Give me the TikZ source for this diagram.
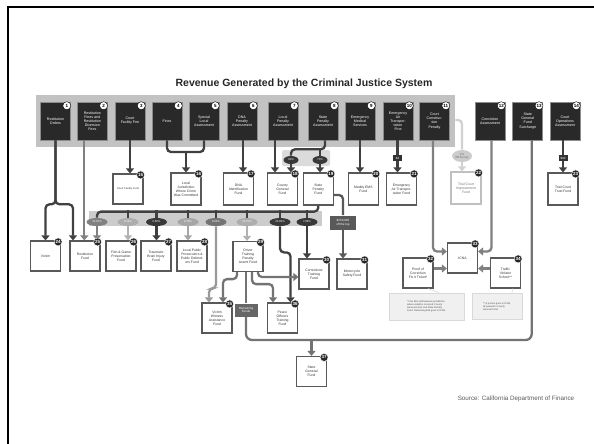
\documentclass[tikz,border=0pt]{standalone}
\usepackage{fontspec}
\setmainfont{Liberation Sans}
\usepackage{tikz}
\usetikzlibrary{arrows.meta,positioning,shapes.geometric,backgrounds}

\begin{document}
\begin{tikzpicture}[x=1pt, y=-1pt, thick,
  src node/.style={rectangle,draw=black!45,fill=black!84,text=white,line width=0.6pt,
    minimum width=30pt,minimum height=38pt,inner sep=0.5pt,align=center,
    font=\fontsize{3.6}{4.1}\selectfont},
  fund node/.style={rectangle,draw=black!65,fill=white,line width=1.2pt,text=black!80,
    minimum width=30pt,minimum height=30pt,inner sep=0.5pt,align=center,
    font=\fontsize{3.4}{3.9}\selectfont},
  pct/.style={ellipse,fill=#1,text=white,minimum width=21pt,minimum height=8pt,inner sep=0pt,
    font=\fontsize{2.8}{3}\selectfont},
  tagbox/.style={rectangle,fill=#1,text=white,inner sep=0.8pt,align=center,
    minimum width=9pt,minimum height=6pt,font=\fontsize{3}{3.4}\selectfont},
  note/.style={rectangle,draw=black!15,fill=black!6,align=left,inner sep=1.5pt,
    text=black!70,font=\fontsize{2.4}{2.9}\selectfont},
  num w/.style={circle,fill=white,draw=black,line width=0.4pt,minimum size=8pt,inner sep=0pt,
    text=black,font=\fontsize{4.5}{4.5}\selectfont\bfseries},
  num b/.style={circle,fill=black!85,draw=white,line width=0.4pt,minimum size=8pt,inner sep=0pt,
    text=white,font=\fontsize{4.5}{4.5}\selectfont\bfseries},
  flowline/.style={line width=2.3pt,draw=#1,rounded corners=4pt},
  arr/.style={-{Triangle[width=8pt,length=5pt]}}]

\useasboundingbox (0,0) rectangle (594,444);
\draw[line width=2pt] (7.5,444) -- (7.5,7.5) -- (594,7.5);

\node[font=\fontsize{10.5}{12}\selectfont\bfseries, text=black!85] (T) at (304,84)
  {Revenue Generated by the Criminal Justice System};

\node[fill=black!24, minimum width=419pt, minimum height=52pt, inner sep=0pt] (TB) at (245.5,121) {};
\node[fill=black!20, minimum width=233pt, minimum height=15pt, inner sep=0pt] (MB) at (205.5,218.5) {};
\node[fill=black!14, rounded corners=2pt, minimum width=48pt, minimum height=16pt, inner sep=0pt] (SB) at (306,158) {};

\node[src node] (S1) at (55.5,121) {Restitution\\Orders};
\node[src node] (S2) at (92.3,121) {Restitution\\Fines and\\Restitution\\Diversion\\Fees};
\node[src node] (S3) at (130,121) {Court\\Facility Fee};
\node[src node] (S4) at (167,121) {Fines};
\node[src node] (S5) at (204,121) {Special\\Local\\Assessment};
\node[src node] (S6) at (242,121) {DNA\\Penalty\\Assessment};
\node[src node] (S7) at (283,121) {Local\\Penalty\\Assessment};
\node[src node] (S8) at (323,121) {State\\Penalty\\Assessment};
\node[src node] (S9) at (360,121) {Emergency\\Medical\\Services};
\node[src node] (S10) at (398,121) {Emergency\\Air\\Transpor-\\tation\\Fine};
\node[src node] (S11) at (434.5,121) {Court\\Construc-\\tion\\Penalty};
\node[src node] (S12) at (490,121) {Conviction\\Assessment};
\node[src node] (S13) at (527.7,121) {State\\General\\Fund\\Surcharge};
\node[src node] (S14) at (565,121) {Court\\Operations\\Assessment};

\node[fund node, font=\fontsize{2.6}{3}\selectfont] (F15) at (128,189) {Court Facility Fund};
\node[fund node, minimum height=32pt] (F16) at (186,189) {Local\\Jurisdiction\\Where Crime\\Was Committed};
\node[fund node, minimum height=32pt] (F17) at (238.5,189) {DNA\\Identification\\Fund};
\node[fund node, minimum height=32pt] (F18) at (282.5,189) {County\\General\\Fund};
\node[fund node, minimum height=32pt] (F19) at (318.3,189) {State\\Penalty\\Fund};
\node[fund node, minimum height=32pt] (F20) at (363.3,189) {Maddy EMS\\Fund};
\node[fund node, minimum height=32pt] (F21) at (401.5,189) {Emergency\\Air Transpor-\\tation Fund};
\node[fund node, minimum height=32pt, draw=black!25, text=black!55] (F22) at (466,188) {Trial Court\\Improvement\\Fund};
\node[fund node, minimum height=32pt] (F23) at (563,189) {Trial Court\\Trust Fund};
\node[fund node] (F24) at (45.5,256) {Victim};
\node[fund node] (F25) at (85,256) {Restitution\\Fund};
\node[fund node] (F26) at (121,256) {Fish \& Game\\Preservation\\Fund};
\node[fund node] (F27) at (156,256) {Traumatic\\Brain Injury\\Fund};
\node[fund node] (F28) at (192,256) {Local Public\\Prosecutors \&\\Public Defend-\\ers Fund};
\node[fund node] (F29) at (248,256.5) {Driver\\Training\\Penalty\\Assmt Fund};
\node[fund node] (F30) at (314,274) {Corrections\\Training\\Fund};
\node[fund node] (F31) at (352,274) {Motorcycle\\Safety Fund};
\node[fund node] (F32) at (418,273) {Proof of\\Correction\\Fix it Ticket*};
\node[fund node] (F33) at (462.5,258) {ICNA};
\node[fund node] (F34) at (505.5,273) {Traffic\\Violator\\School**};
\node[fund node] (F35) at (217,318) {Victim\\Witness\\Assistance\\Fund};
\node[fund node] (F36) at (282.5,318) {Peace\\Officers\\Training\\Fund};
\node[fund node] (F37) at (311.5,371.5) {State\\General\\Fund};

\node[pct=black!50] (O1) at (97,222) {32.02\%};
\node[pct=black!32] (O2) at (128,222) {0.33\%};
\node[pct=black!78] (O3) at (156.5,222) {0.66\%};
\node[pct=black!35] (O4) at (188,222) {0.78\%};
\node[pct=black!55] (O5) at (216,222) {8.64\%};
\node[pct=black!32] (O6) at (247,222) {25.70\%};
\node[pct=black!78] (O7) at (280,222) {23.99\%};
\node[pct=black!78] (O8) at (307,222) {7.88\%};
\node[pct=black!78, minimum width=15pt] (O30) at (291,160) {30\%};
\node[pct=black!78, minimum width=15pt] (O70) at (320,160) {70\%};
\node[pct=black!20, text=black!60, minimum width=20pt, minimum height=12pt, align=center] (OP) at (462,156) {2\%\\Off the top};

\node[tagbox=black!80] (T4) at (397.5,158) {\$4};
\node[tagbox=black!80] (T40) at (563,158) {\$40};
\node[tagbox=black!60, minimum width=23pt, minimum height=13pt] (TR) at (246,310) {Remaining\\Funds};
\node[tagbox=black!65, minimum width=26pt, minimum height=14pt] (TM) at (343,222.5) {\$250,000\\off the top};

\node[note, minimum width=75pt, minimum height=27pt] (NL) at (426.5,306.5)
  {* Plus \$10 split between jurisdiction\\where violation occurred, County\\General Fund, and State Penalty\\Fund. Remaining \$15 goes to ICNA.};
\node[note, minimum width=50pt, minimum height=26pt] (NR) at (497,306.5)
  {** A portion goes to ICNA,\\all passed to County\\General Fund};
\draw[black!15, line width=0.6pt] ([xshift=12pt]NL.north) -- ([xshift=10pt]F32.south);
\draw[black!15, line width=0.6pt] ([xshift=15pt]NR.north) -- ([xshift=7pt]F34.south);

\node[anchor=east, font=\fontsize{6.3}{7}\selectfont, text=black!65] (SRC) at (578,399)
  {Source: California Department of Finance};

\coordinate (J16) at (186,152);
\coordinate (J37) at (311.5,340);

\draw[flowline=black!75, arr] (S1.south) -- ++(0,64) -| (F24.north);
\draw[flowline=black!75, arr] (S1.south) -- ++(0,64) -| ([xshift=-12pt]F25.north);
\draw[flowline=black!50, arr] ([xshift=-8pt]S2.south) -- ([xshift=-8pt]S2.south |- F25.north);
\draw[flowline=black!75, arr] (S3.south) -- (S3.south |- F15.north);
\draw[flowline=black!75] (S4.south) |- (J16) -| (S5.south);
\draw[flowline=black!75, arr] (J16) -- (F16.north);
\draw[flowline=black!75, arr] ([xshift=1pt]S6.south) -- ([xshift=1pt]S6.south |- F17.north);
\draw[flowline=black!75, arr] ([xshift=-8pt]S7.south) -- ([xshift=-8pt]S7.south |- F18.north);
\draw[flowline=black!75] ([xshift=2pt]S8.south) -- ++(0,9) -| (O30.north);
\draw[flowline=black!75] (O70.north) -- ++(0,-7);
\draw[flowline=black!75, arr] (O30.south) -- (O30.south |- F18.north);
\draw[flowline=black!75, arr] (O70.south) -- (O70.south |- F19.north);
\draw[flowline=black!75, arr] (S9.south) -- (S9.south |- F20.north);
\draw[flowline=black!75] (T4 |- S10.south) -- (T4.north);
\draw[flowline=black!75, arr] (T4.south) -- (T4.south |- F21.north);
\draw[flowline=black!75] (T40 |- S14.south) -- (T40.north);
\draw[flowline=black!75, arr] (T40.south) -- (T40.south |- F23.north);

\draw[flowline=black!50, arr] ([xshift=-1.5pt]S11.south) |- ([yshift=6.5pt]F33.west);
\draw[flowline=black!50, arr] ([yshift=4.5pt]F32.east) -- ([yshift=4.5pt]F32.east -| F33.west);
\draw[flowline=black!50, arr] ([xshift=1.5pt]S12.south) |- ([yshift=6.5pt]F33.east);
\draw[flowline=black!50, arr] ([yshift=4.5pt]F34.west) -- ([yshift=4.5pt]F34.west -| F33.east);

\draw[flowline=black!18] ([yshift=1pt]TB.east) -| (OP.north);
\draw[flowline=black!18, arr] (OP.south) -- (OP.south |- F22.north);

\draw[flowline=black!75] (F19.south) -- ++(0,6) -| (O1.north);
\foreach \o in {O2,O3,O4,O5,O6,O7,O8}
  \draw[flowline=black!75] (\o.north) -- ++(0,-8);
\draw[flowline=black!50, arr] (O1.south) -- (O1.south |- F25.north);
\draw[flowline=black!30, arr] (O2.south) -- (O2.south |- F26.north);
\draw[flowline=black!75, arr] (O3.south) -- (O3.south |- F27.north);
\draw[flowline=black!35, arr] (O4.south) -- (O4.south |- F28.north);
\draw[flowline=black!40, arr] (O5.south) -- ++(0,62) -| ([xshift=-8pt]F35.north);
\draw[flowline=black!30, arr] (O6.south) -- (O6.south |- F29.north);
\draw[flowline=black!75, arr] (O7.south) -- ++(0,26) -| ([xshift=8pt]F36.north);
\draw[flowline=black!75, arr] (O8.south) -- (O8.south |- F30.north);

\draw[flowline=black!65] ([yshift=-6pt]F19.east) -| (TM.north);
\draw[flowline=black!65, arr] (TM.south) -- (TM.south |- F31.north);

\draw[flowline=black!55, arr] ([xshift=-11pt]F29.south) -- ++(0,7) -| ([xshift=6pt]F35.north);
\draw[flowline=black!55, arr] ([xshift=4pt]F29.south) -- ++(0,12) -| ([xshift=-9.5pt]F36.north);
\draw[flowline=black!55, arr] ([xshift=10pt]F29.south) |- ([yshift=-3pt]F30.west);
\draw[flowline=black!55] ([xshift=-2pt]F29.south) -- (TR.north);
\draw[flowline=black!55, rounded corners=6pt] (TR.south) |- (J37) -| ([xshift=4pt]S13.south);
\draw[flowline=black!55, arr] (J37) -- (F37.north);

\foreach \n in {1,...,14}
  \node[num w] at ([xshift=-4pt,yshift=-4pt]S\n.north east) {\n};
\foreach \n in {15,...,37}
  \node[num b] at ([xshift=-3pt,yshift=-1.5pt]F\n.north east) {\n};
\end{tikzpicture}
\end{document}
